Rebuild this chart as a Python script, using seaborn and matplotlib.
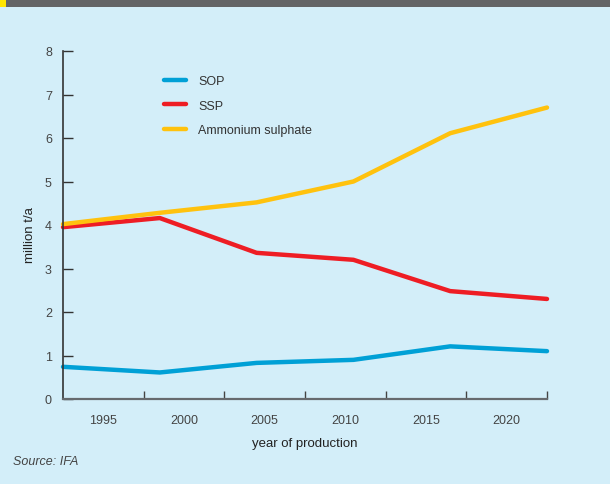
import matplotlib
matplotlib.use("Agg")
import matplotlib.pyplot as plt
import matplotlib.patches as mpatches
from matplotlib.ticker import FixedLocator, NullFormatter
import seaborn as sns
import pandas as pd

# Production by year (million t/a)
years = [1992.5, 1998.5, 2004.5, 2010.5, 2016.5, 2022.5]
sop = [0.74, 0.61, 0.83, 0.90, 1.21, 1.10]
ssp = [3.95, 4.16, 3.36, 3.20, 2.48, 2.30]
ammonium_sulphate = [4.02, 4.28, 4.52, 5.00, 6.11, 6.70]

series_names = ["SOP", "SSP", "Ammonium sulphate"]
series_colors = ["#00a0d6", "#ee1d24", "#ffc20e"]
year_labels = [1995, 2000, 2005, 2010, 2015, 2020]
y_ticks = [0, 1, 2, 3, 4, 5, 6, 7, 8]

df = pd.DataFrame({
    "year": years * 3,
    "value": sop + ssp + ammonium_sulphate,
    "product": [series_names[0]] * 6 + [series_names[1]] * 6 + [series_names[2]] * 6,
})

sns.set_theme(style="white")
bg = "#d3eef9"
plt.rcParams["font.family"] = ["Liberation Sans", "DejaVu Sans"]

W, H = 610, 485
fig = plt.figure(figsize=(W / 100, H / 100), dpi=100, facecolor=bg)
left, right, bottom, top = 63, 547, 400, 52
ax = fig.add_axes([left / W, 1 - bottom / H, (right - left) / W, (bottom - top) / H])
ax.set_facecolor(bg)

sns.lineplot(data=df, x="year", y="value", hue="product", hue_order=series_names,
             palette=series_colors, linewidth=3.2, ax=ax, legend=True,
             solid_capstyle="round", solid_joinstyle="round", clip_on=False)

ax.set_xlim(1992.5, 2022.5)
ax.set_ylim(0, 8)

for s in ["top", "right"]:
    ax.spines[s].set_visible(False)
ax.spines["left"].set_color("#333333")
ax.spines["left"].set_linewidth(1.2)
ax.spines["bottom"].set_color("#666a6e")
ax.spines["bottom"].set_linewidth(1.6)

# y ticks point inward
ax.set_yticks(y_ticks)
ax.set_yticklabels([str(v) for v in y_ticks])
ax.tick_params(axis="y", direction="in", length=7.5, width=1.0, color="#333333",
               labelsize=9, labelcolor="#444444", pad=8, left=True)

# x: dividers between periods, labels centred in each period
ax.xaxis.set_major_locator(FixedLocator([1997.5, 2002.5, 2007.5, 2012.5, 2017.5, 2022.5]))
ax.xaxis.set_major_formatter(NullFormatter())
ax.xaxis.set_minor_locator(FixedLocator(year_labels))
ax.set_xticklabels([str(y) for y in year_labels], minor=True)
ax.tick_params(axis="x", which="major", direction="in", length=6, width=1.0,
               color="#444444", bottom=True)
ax.tick_params(axis="x", which="minor", length=0, labelsize=9,
               labelcolor="#444444", pad=11, bottom=True)

ax.set_xlabel("year of production", fontsize=9.5, color="#222222")
ax.xaxis.set_label_coords(0.5, -0.11)
ax.set_ylabel("million t/a", fontsize=9.5, color="#222222")
ax.yaxis.set_label_coords(-0.055, 0.475)

leg = ax.legend(loc="upper left", bbox_to_anchor=(164 / W, 1 - 76 / H),
                bbox_transform=fig.transFigure, frameon=False, fontsize=9,
                handlelength=1.75, handletextpad=1.0, labelspacing=1.0,
                borderaxespad=0, borderpad=0)
for t in leg.get_texts():
    t.set_color("#333333")
for line in leg.get_lines():
    line.set_linewidth(3.2)
    line.set_solid_capstyle("round")

# header strip
fig.patches.append(mpatches.Rectangle((0, 1 - 8 / H), 1, 8 / H, transform=fig.transFigure,
                                      facecolor="#636466", edgecolor="none"))
fig.patches.append(mpatches.Rectangle((0, 1 - 8 / H), 6 / W, 8 / H, transform=fig.transFigure,
                                      facecolor="#ffe500", edgecolor="none"))

fig.text(13 / W, 1 - 462 / H, "Source: IFA", fontsize=9, style="italic",
         color="#444444", va="center", ha="left")

fig.savefig("out.png", dpi=100, facecolor=bg)
